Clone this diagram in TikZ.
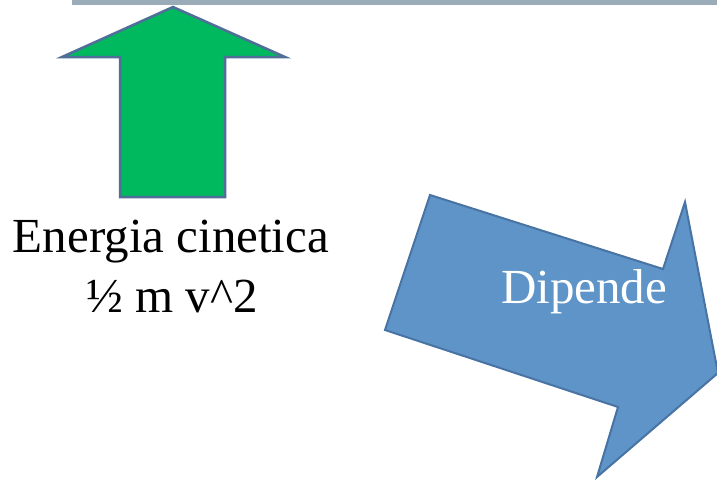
\documentclass[tikz,border=0pt]{standalone}
\usepackage{fontspec}
\setmainfont{Liberation Serif}
\usepackage{tikz}
\usetikzlibrary{positioning}
\definecolor{ecBar}{HTML}{9BACB9}
\definecolor{ecGreen}{HTML}{00B95E}
\definecolor{ecGreenEdge}{HTML}{4F6F98}
\definecolor{ecBlue}{HTML}{5E94C8}
\definecolor{ecBlueEdge}{HTML}{4873A3}
\tikzset{
  ecbar/.style={fill=ecBar,draw=none},
  ecup/.style={fill=ecGreen,draw=ecGreenEdge,line width=2.5pt,line join=miter},
  ecright/.style={fill=ecBlue,draw=ecBlueEdge,line width=2pt,line join=miter},
  eclbl/.style={font=\fontsize{49}{58}\selectfont,inner sep=0pt,anchor=base},
}

\begin{document}
\begin{tikzpicture}[x=1pt,y=-1pt]
  \useasboundingbox (0,0) rectangle (717,480);
  \fill[ecbar] (72,0) rectangle (717,5);

  % green arrow
  \draw[ecup] (173,7) -- (285,57) -- (225,57) -- (225,197) -- (120,197) -- (120,57) -- (62,57) -- cycle;
  \node[eclbl] (energy) at (171,252) {Energia cinetica};
  \node[eclbl] (formula) at (172,312) {½ m v\textasciicircum 2};

  % blue arrow
  \draw[ecright] (430,195) -- (663,269) -- (685,202) -- (718,373) -- (597,477) -- (618,407) -- (385,330) -- cycle;
  \node[eclbl,text=white] (dep) at (584,303) {Dipende};
\end{tikzpicture}
\end{document}
